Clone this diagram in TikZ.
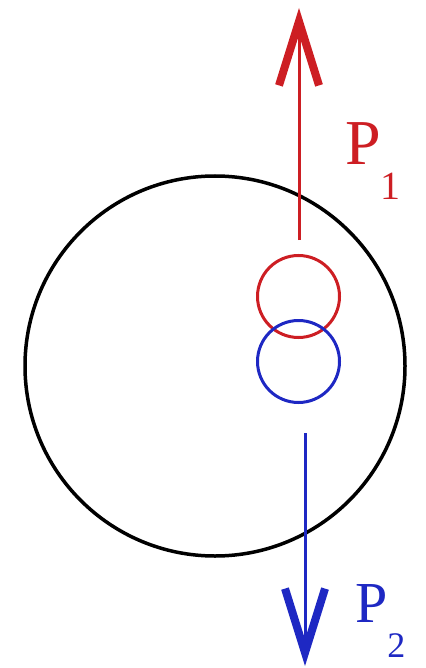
\documentclass[tikz,border=0pt]{standalone}
\usepackage{fontspec}
\setmainfont{Liberation Serif}
\usepackage{xcolor}
\usetikzlibrary{arrows.meta,positioning}
\definecolor{pred}{RGB}{205,30,35}
\definecolor{pblue}{RGB}{30,40,195}

\begin{document}
\begin{tikzpicture}[x=1pt,y=-1pt,
      ring/.style={draw, circle, inner sep=0pt, line width=3pt},
      load/.style={line width=3pt, -{Straight Barb[length=64pt,width=40pt,line width=8pt]}},
      lab/.style={inner sep=0pt, anchor=base west}]
    \useasboundingbox (0,0) rectangle (425,668);
    \node[ring, line width=3.5pt, minimum size=380pt] (disk) at (215,366) {};
    \node[ring, pred, minimum size=82pt] (ring1) at (298.5,296.5) {};
    \node[ring, pblue, minimum size=82pt] (ring2) at (298.5,361.5) {};
    \coordinate (p1tail) at (299,240);
    \coordinate (p1tip) at (299,8);
    \coordinate (p2tail) at (305,433);
    \coordinate (p2tip) at (305,666);
    \draw[load, pred] (p1tail)--(p1tip);
    \draw[load, pblue] (p2tail)--(p2tip);
    \node[lab, pred] (P1) at (345,165)
      {\fontsize{64}{64}\selectfont P\raisebox{-35pt}{\fontsize{40}{40}\selectfont 1}};
    \node[lab, pblue] (P2) at (355,622)
      {\fontsize{58}{58}\selectfont P\raisebox{-35pt}{\fontsize{36}{36}\selectfont 2}};
  \end{tikzpicture}
\end{document}
